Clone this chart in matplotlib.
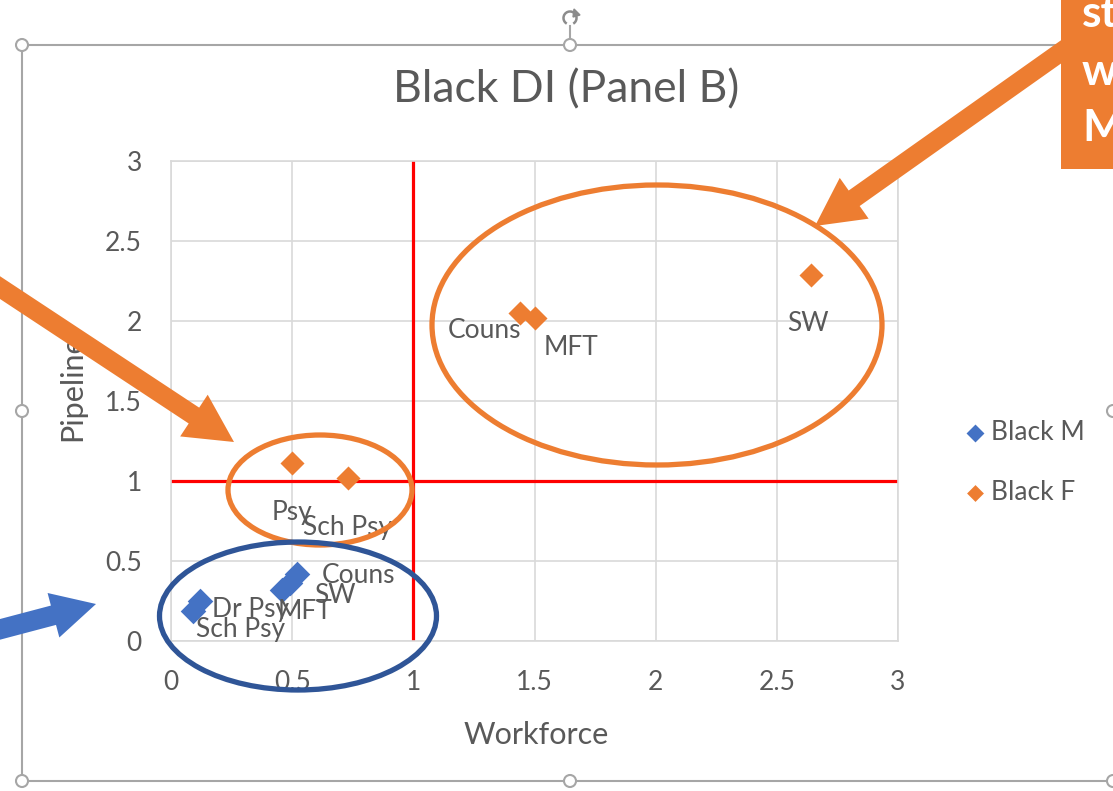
import matplotlib
matplotlib.use("Agg")
import matplotlib.pyplot as plt
from matplotlib.patches import Ellipse, FancyArrow, Rectangle, Circle, Arc, Polygon
import numpy as np

plt.rcParams['font.family'] = ['Lato', 'DejaVu Sans']

# ---------------- data ----------------
title = "Black DI (Panel B)"
x_label = "Workforce"
y_label = "Pipeline"
series_names = ["Black M", "Black F"]

m_labels = ["Couns", "SW", "MFT", "Dr Psy", "Sch Psy"]
m_x = [0.52, 0.49, 0.46, 0.12, 0.09]
m_y = [0.42, 0.36, 0.32, 0.25, 0.19]

f_labels = ["Couns", "MFT", "SW", "Psy", "Sch Psy"]
f_x = [1.44, 1.50, 2.64, 0.50, 0.73]
f_y = [2.05, 2.02, 2.29, 1.11, 1.02]

ticks = [0, 0.5, 1, 1.5, 2, 2.5, 3]
tick_labels = ["0", "0.5", "1", "1.5", "2", "2.5", "3"]
ref_x = 1
ref_y = 1
box_text = ["st", "w", "M"]

# label offsets in pixels (layout)
m_off = [(61, -2), (45, -12), (23, -22), (50, -8), (48, -19)]
f_off = [(-35, -18), (37, -30), (-3, -49), (0, -49), (0, -50)]

W, H = 1113, 791
TXT = "#595959"
ORANGE = "#ed7d31"
BLUE = "#4472c4"
NAVY = "#2f5597"
GRID = "#d9d9d9"

fig = plt.figure(figsize=(W / 100, H / 100), dpi=100)
fig.patch.set_facecolor("white")

L, R, T, B = 171, 898, 161, 641
ax = fig.add_axes([L / W, (H - B) / H, (R - L) / W, (B - T) / H])
ax.set_xlim(0, 3)
ax.set_ylim(0, 3)
ax.set_xticks(ticks)
ax.set_xticklabels(tick_labels)
ax.set_yticks(ticks)
ax.set_yticklabels(tick_labels)
ax.grid(True, color=GRID, lw=1.2, zorder=0)
ax.set_axisbelow(True)
for s in ax.spines.values():
    s.set_color(GRID)
    s.set_linewidth(1.2)
ax.tick_params(length=0, labelsize=19, labelcolor=TXT)
ax.tick_params(axis='y', pad=21)
ax.tick_params(axis='x', pad=21)

ax.axvline(ref_x, color="red", lw=2.3, zorder=2)
ax.axhline(ref_y, color="red", lw=2.3, zorder=2)

hm = ax.scatter(m_x, m_y, marker="D", s=170, color=BLUE, zorder=3, label=series_names[0], linewidths=0)
hf = ax.scatter(f_x, f_y, marker="D", s=150, color=ORANGE, zorder=3, label=series_names[1], linewidths=0)

for lab, x, y, off in zip(m_labels, m_x, m_y, m_off):
    ax.annotate(lab, (x, y), xytext=off, textcoords="offset pixels", ha="center", va="center",
                fontsize=19, color=TXT, zorder=4)
for lab, x, y, off in zip(f_labels, f_x, f_y, f_off):
    ax.annotate(lab, (x, y), xytext=off, textcoords="offset pixels", ha="center", va="center",
                fontsize=19, color=TXT, zorder=4)

ax.set_xlabel(x_label, fontsize=22, color=TXT)
ax.set_ylabel(y_label, fontsize=22, color=TXT)
ax.xaxis.set_label_coords((536 - L) / (R - L), -(735 - B) / (B - T))
ax.yaxis.set_label_coords(-(L - 72) / (R - L), (B - 388) / (B - T))
ax.xaxis.label.set_va("center")
ax.yaxis.label.set_va("center")

leg = ax.legend(handles=[hm, hf], loc="upper left", bbox_to_anchor=(937 / W, 1 - 396 / H),
                bbox_transform=fig.transFigure, frameon=False, fontsize=19,
                labelcolor=TXT, handletextpad=0.05, labelspacing=1.35, markerscale=0.7,
                handlelength=1.1)

fig.text(566 / W, 1 - 90 / H, title, ha="center", va="center", fontsize=32, color=TXT)

# ---------------- overlay (pixel coords) ----------------
ov = fig.add_axes([0, 0, 1, 1], zorder=10)
ov.set_xlim(0, W)
ov.set_ylim(H, 0)
ov.axis("off")
ov.patch.set_alpha(0)

BORDER = "#a6a6a6"
ov.plot([22, W + 5], [45, 45], color=BORDER, lw=1.5)
ov.plot([22, 22], [45, 781], color=BORDER, lw=1.5)
ov.plot([22, W + 5], [781, 781], color=BORDER, lw=1.5)
ov.plot([570, 570], [26, 45], color=BORDER, lw=1.5)
for (hx, hy) in [(22, 45), (570, 45), (22, 411), (22, 781), (570, 781), (1113, 411), (1113, 781)]:
    ov.add_patch(Circle((hx, hy), 6, facecolor="white", edgecolor=BORDER, lw=1.5, zorder=5))
ov.add_patch(Arc((570, 18), 13, 13, theta1=-240, theta2=60, color="#8c8c8c", lw=1.8))
ov.add_patch(Polygon([[574, 9], [580, 15], [573, 17]], closed=True, color="#8c8c8c"))

# ellipses
ov.add_patch(Ellipse((657, 325), 450, 280, fill=False, edgecolor=ORANGE, lw=3.8))
ov.add_patch(Ellipse((320, 490), 184, 110, fill=False, edgecolor=ORANGE, lw=3.8))
ov.add_patch(Ellipse((298, 616), 277, 148, fill=False, edgecolor=NAVY, lw=3.8))

# orange box top right
ov.add_patch(Rectangle((1061, -5), 60, 174, facecolor=ORANGE, edgecolor="none", zorder=6))
for txt, yy in zip(box_text, [14, 72, 128]):
    ov.text(1082, yy, txt, color="white", fontsize=32, fontweight="bold", ha="left", va="center",
            zorder=7, clip_on=True)


def arrow(x0, y0, x1, y1, color, shaft=19, head_w=50, head_l=48):
    dx, dy = x1 - x0, y1 - y0
    ov.add_patch(FancyArrow(x0, y0, dx, dy, width=shaft, head_width=head_w, head_length=head_l,
                            length_includes_head=True, color=color, lw=0, zorder=8))


arrow(1075, 42, 815, 226, ORANGE)
arrow(-10, 281, 234, 442, ORANGE)
arrow(-10, 632, 96, 604, BLUE, shaft=20, head_w=46, head_l=44)

fig.savefig("out.png", dpi=100, facecolor="white")
